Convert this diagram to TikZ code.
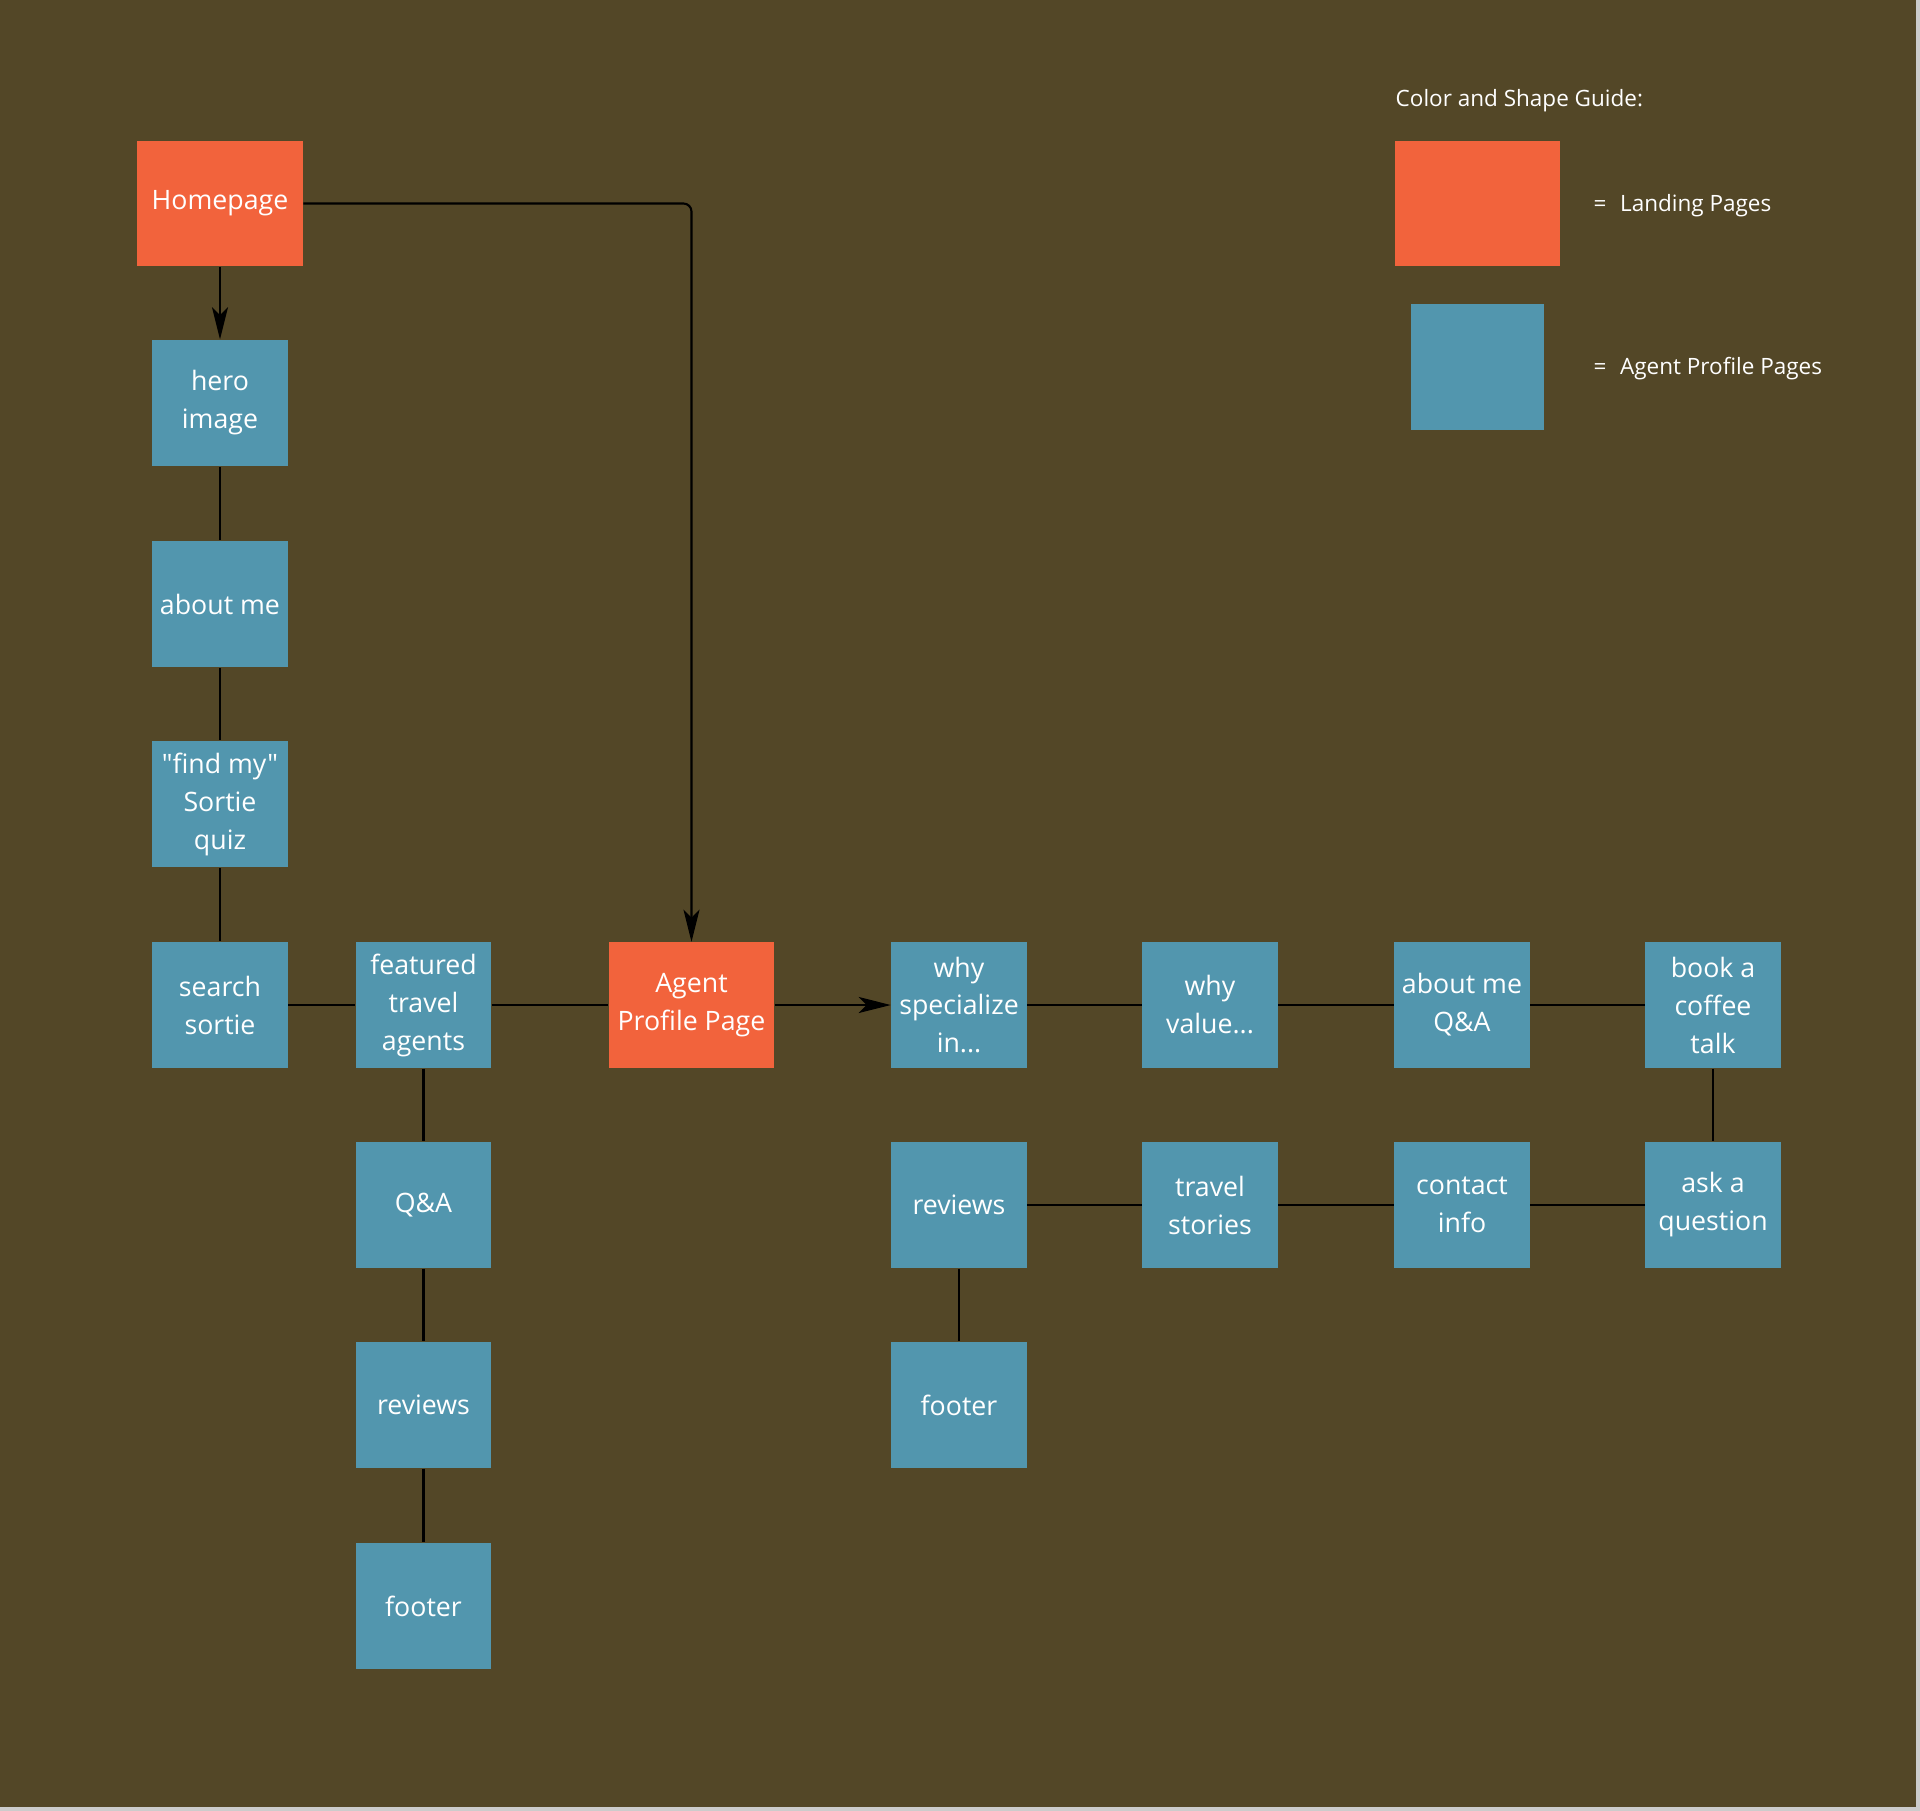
\documentclass[tikz,border=0pt]{standalone}
\usepackage{fontspec}
\setmainfont{Open Sans}[Ligatures=TeXOff]
\usepackage{tikz}
\usetikzlibrary{arrows.meta, positioning}

\definecolor{bgbrown}{RGB}{83,71,39}
\definecolor{landing}{RGB}{242,99,60}
\definecolor{profile}{RGB}{82,150,174}

\begin{document}
\begin{tikzpicture}[x=0.01cm, y=-0.01cm,
        page/.style={fill=profile, inner sep=0pt, minimum width=1.35cm,
                    minimum height=1.26cm, align=center, text=white,
                    font=\fontsize{7.6}{10.8}\selectfont},
        land/.style={page, fill=landing, minimum width=1.65cm, minimum height=1.25cm},
        guide/.style={text=white, inner sep=0pt, font=\fontsize{6.4}{8}\selectfont},
        link/.style={line width=0.6pt, black},
        arr/.style={link, -{Stealth[length=3.2mm, width=1.6mm, inset=0.8mm]}}
    ]
        % background
        \fill[bgbrown] (0,0) rectangle (1920,1811);
        \fill[black!20] (1916,0) rectangle (1920,1811);
        \fill[black!20] (0,1807) rectangle (1920,1811);

        % Homepage column
        \node[land] (home) at (220,203.5) {Homepage};
        \node[page] (hero) at (220,403) {hero\\image};
        \node[page] (aboutme) at (220,604) {about me};
        \node[page] (quiz) at (220,804) {"find my"\\Sortie\\quiz};
        \node[page] (search) at (220,1005) {search\\sortie};

        % featured column
        \node[page] (featured) at (423.5,1005) {featured\\travel\\agents};
        \node[page] (qa) at (423.5,1205) {Q\&A};
        \node[page] (reviews) at (423.5,1405) {reviews};
        \node[page] (footer) at (423.5,1606) {footer};

        % Agent profile
        \node[land] (agent) at (691.5,1005) {Agent\\Profile Page};
        \node[page] (why) at (959,1005) {why\\specialize\\in...};
        \node[page] (value) at (1210,1005) {why\\value...};
        \node[page] (aboutqa) at (1462,1005) {about me\\Q\&A};
        \node[page] (coffee) at (1713,1005) {book a\\coffee\\talk};
        \node[page] (ask) at (1713,1205) {ask a\\question};
        \node[page] (contact) at (1462,1205) {contact\\info};
        \node[page] (stories) at (1210,1205) {travel\\stories};
        \node[page] (reviewsb) at (959,1205) {reviews};
        \node[page] (footerb) at (959,1405) {footer};

        % guide
        \node[guide, anchor=west] (guidetitle) at (1395,101) {Color and Shape Guide:};
        \node[land] (keyland) at (1477.5,203.5) {};
        \node[page, minimum width=1.33cm] (keyprof) at (1477.5,367) {};
        \node[guide, anchor=west] (landtext) at (1593,206) {=\hspace{0.6em}Landing Pages};
        \node[guide, anchor=west] (proftext) at (1593,369) {=\hspace{0.6em}Agent Profile Pages};

        \draw[arr] (home) -- (hero);
        \draw[arr, rounded corners=0.8mm] (home.east) -| (agent.north);
        \draw[link] (hero) -- (aboutme) -- (quiz) -- (search);
        \draw[link] (search) -- (featured) -- (agent);
        \draw[link] (featured) -- (qa) -- (reviews) -- (footer);
        \draw[arr] (agent) -- (why);
        \draw[link] (why) -- (value) -- (aboutqa) -- (coffee) -- (ask);
        \draw[link] (ask) -- (contact) -- (stories) -- (reviewsb) -- (footerb);
    \end{tikzpicture}
\end{document}
